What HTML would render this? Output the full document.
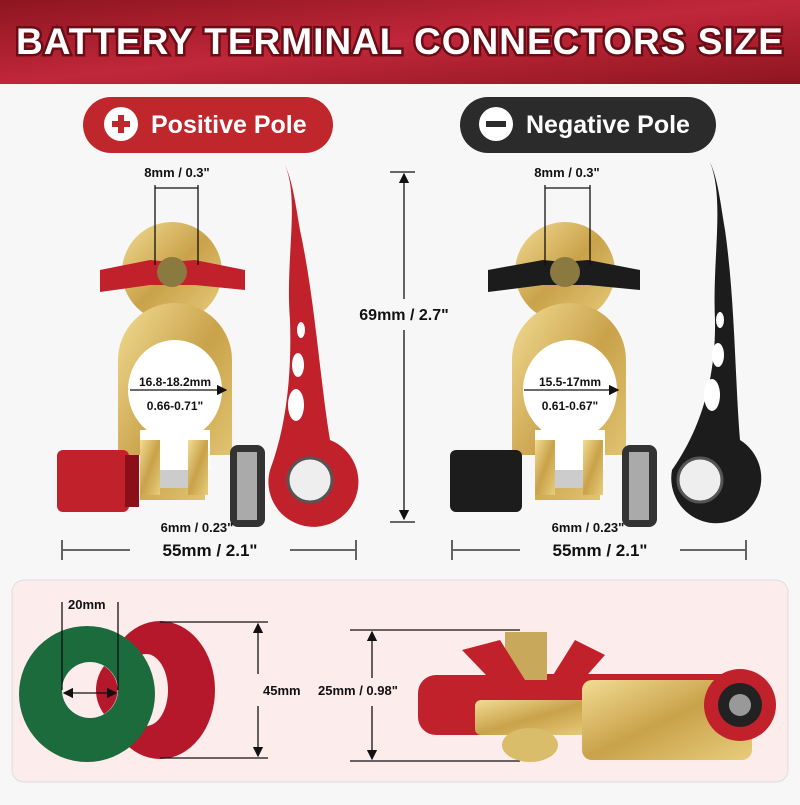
<!DOCTYPE html>
<html><head><meta charset="utf-8"><style>
body{margin:0;width:800px;height:800px;overflow:hidden;background:#f7f7f7;font-family:"Liberation Sans",sans-serif}
</style></head><body>
<svg width="800" height="800" viewBox="0 0 800 800" xmlns="http://www.w3.org/2000/svg">
<defs>
<linearGradient id="hd" x1="0" y1="0" x2="1" y2="1"><stop offset="0" stop-color="#8e1520"/><stop offset="0.5" stop-color="#c0273a"/><stop offset="1" stop-color="#8e1520"/></linearGradient>
<linearGradient id="gold" x1="0" y1="0" x2="1" y2="1"><stop offset="0" stop-color="#f2dc94"/><stop offset="0.5" stop-color="#c9a24a"/><stop offset="1" stop-color="#e8cd7c"/></linearGradient>
<marker id="a" markerWidth="8" markerHeight="8" refX="7" refY="4" orient="auto"><path d="M0,0L8,4L0,8z" fill="#111"/></marker>
</defs>
<rect width="800" height="84" fill="url(#hd)"/>
<text x="400" y="54" text-anchor="middle" font-size="37" font-weight="bold" fill="#fff" stroke="#6a0d16" stroke-width="5" paint-order="stroke" letter-spacing="1">BATTERY TERMINAL CONNECTORS SIZE</text>
<rect x="83" y="97" width="250" height="56" rx="28" fill="#c0272d"/>
<circle cx="121" cy="124" r="17" fill="#fff"/><rect x="112" y="121" width="18" height="6" fill="#c0272d"/><rect x="118" y="115" width="6" height="18" fill="#c0272d"/>
<text x="151" y="133" font-size="25" font-weight="bold" fill="#fff">Positive Pole</text>
<rect x="460" y="97" width="256" height="56" rx="28" fill="#2b2b2b"/>
<circle cx="496" cy="124" r="17" fill="#fff"/><rect x="486" y="121" width="20" height="6" fill="#2b2b2b"/>
<text x="526" y="133" font-size="25" font-weight="bold" fill="#fff">Negative Pole</text>

<g>
<path d="M285,165 C300,200 285,260 290,320 C292,380 285,430 270,470 A45,45 0 1 0 330,440 C320,380 315,300 300,230 C295,200 292,180 285,165z" fill="#c0212b"/>
<circle cx="310" cy="480" r="22" fill="#eee" stroke="#555" stroke-width="3"/>
<ellipse cx="301" cy="330" rx="4" ry="8" fill="#fff"/><ellipse cx="298" cy="365" rx="6" ry="12" fill="#fff"/><ellipse cx="296" cy="405" rx="8" ry="16" fill="#fff"/>
<circle cx="172" cy="272" r="50" fill="url(#gold)"/>
<path d="M100,270 L150,260 L170,262 L195,260 L245,270 L245,290 L195,285 L150,285 L100,292z" fill="#c0212b"/>
<circle cx="172" cy="272" r="15" fill="#8a7a40"/>
<path d="M118,360 A57,57 0 0 1 232,360 L232,455 L205,455 L205,500 L140,500 L140,455 L118,455z" fill="url(#gold)"/>
<ellipse cx="175" cy="390" rx="47" ry="50" fill="#fff"/>
<rect x="140" y="430" width="70" height="40" fill="#fff"/>
<rect x="140" y="440" width="20" height="55" fill="url(#gold)"/><rect x="188" y="440" width="20" height="55" fill="url(#gold)"/>
<rect x="160" y="470" width="28" height="18" fill="#ccc"/>
<rect x="57" y="450" width="72" height="62" rx="6" fill="#c0212b"/><rect x="125" y="455" width="14" height="52" fill="#8a0f18"/>
<rect x="230" y="445" width="35" height="82" rx="8" fill="#333"/><rect x="237" y="452" width="20" height="68" fill="#aaa"/>
</g>
<g>
<path d="M710,162 C725,200 712,260 715,320 C716,380 700,430 672,470 A45,45 0 1 0 740,440 C735,380 735,300 725,230 C720,200 718,180 710,162z" fill="#1c1c1c"/>
<circle cx="700" cy="480" r="22" fill="#eee" stroke="#555" stroke-width="3"/>
<ellipse cx="720" cy="320" rx="4" ry="8" fill="#fff"/><ellipse cx="718" cy="355" rx="6" ry="12" fill="#fff"/><ellipse cx="712" cy="395" rx="8" ry="16" fill="#fff"/>
<circle cx="565" cy="272" r="50" fill="url(#gold)"/>
<path d="M488,270 L543,260 L563,262 L588,260 L640,270 L640,290 L588,285 L543,285 L488,292z" fill="#1c1c1c"/>
<circle cx="565" cy="272" r="15" fill="#8a7a40"/>
<path d="M512,360 A57,57 0 0 1 626,360 L626,455 L600,455 L600,500 L535,500 L535,455 L512,455z" fill="url(#gold)"/>
<ellipse cx="570" cy="390" rx="47" ry="50" fill="#fff"/>
<rect x="535" y="430" width="70" height="40" fill="#fff"/>
<rect x="535" y="440" width="20" height="55" fill="url(#gold)"/><rect x="583" y="440" width="20" height="55" fill="url(#gold)"/>
<rect x="555" y="470" width="28" height="18" fill="#ccc"/>
<rect x="450" y="450" width="72" height="62" rx="6" fill="#1c1c1c"/>
<rect x="622" y="445" width="35" height="82" rx="8" fill="#333"/><rect x="629" y="452" width="20" height="68" fill="#aaa"/>
</g>

<g stroke="#111" stroke-width="1.3" fill="none">
<line x1="155" y1="185" x2="155" y2="265"/><line x1="198" y1="185" x2="198" y2="265"/><line x1="155" y1="188" x2="198" y2="188"/>
<line x1="545" y1="185" x2="545" y2="265"/><line x1="590" y1="185" x2="590" y2="265"/><line x1="545" y1="188" x2="590" y2="188"/>
<line x1="390" y1="172" x2="415" y2="172"/><line x1="390" y1="522" x2="415" y2="522"/>
<line x1="404" y1="175" x2="404" y2="300" marker-end="url(#a)" transform="rotate(180 404 237)"/>
<line x1="404" y1="330" x2="404" y2="519" marker-end="url(#a)"/>
<line x1="62" y1="540" x2="62" y2="560"/><line x1="356" y1="540" x2="356" y2="560"/>
<line x1="63" y1="550" x2="130" y2="550"/><line x1="290" y1="550" x2="355" y2="550"/>
<line x1="452" y1="540" x2="452" y2="560"/><line x1="746" y1="540" x2="746" y2="560"/>
<line x1="453" y1="550" x2="520" y2="550"/><line x1="680" y1="550" x2="745" y2="550"/>
<line x1="130" y1="390" x2="226" y2="390" marker-end="url(#a)"/><line x1="524" y1="390" x2="618" y2="390" marker-end="url(#a)"/>
</g>
<g font-weight="bold" fill="#111" text-anchor="middle">
<text x="177" y="177" font-size="13">8mm / 0.3"</text>
<text x="567" y="177" font-size="13">8mm / 0.3"</text>
<text x="404" y="320" font-size="16">69mm / 2.7"</text>
<text x="175" y="386" font-size="12">16.8-18.2mm</text><text x="175" y="410" font-size="12">0.66-0.71"</text>
<text x="570" y="386" font-size="12">15.5-17mm</text><text x="570" y="410" font-size="12">0.61-0.67"</text>
<text x="197" y="532" font-size="13">6mm / 0.23"</text>
<text x="588" y="532" font-size="13">6mm / 0.23"</text>
<text x="210" y="556" font-size="17">55mm / 2.1"</text>
<text x="600" y="556" font-size="17">55mm / 2.1"</text>
</g>

<rect x="12" y="580" width="776" height="202" rx="12" fill="#fcecec" stroke="#ddd" stroke-width="1"/>
<ellipse cx="160" cy="690" rx="55" ry="69" fill="#b5182a"/>
<ellipse cx="146" cy="690" rx="22" ry="36" fill="#fcecec"/>
<ellipse cx="87" cy="694" rx="68" ry="68" fill="#1c6b3c"/>
<ellipse cx="90" cy="690" rx="28" ry="28" fill="#fcecec"/>
<path d="M104,666 A28,28 0 0 1 104,714 A40,40 0 0 1 104,666 Z" fill="#b5182a"/>
<g stroke="#111" stroke-width="1.3" fill="none">
<line x1="62" y1="602" x2="62" y2="690"/><line x1="118" y1="602" x2="118" y2="690"/>
<line x1="90" y1="693" x2="64" y2="693" marker-end="url(#a)"/><line x1="90" y1="693" x2="116" y2="693" marker-end="url(#a)"/>
<line x1="160" y1="622" x2="268" y2="622"/><line x1="160" y1="758" x2="268" y2="758"/>
<line x1="258" y1="674" x2="258" y2="624" marker-end="url(#a)"/><line x1="258" y1="706" x2="258" y2="756" marker-end="url(#a)"/>
<line x1="350" y1="630" x2="520" y2="630"/><line x1="350" y1="761" x2="520" y2="761"/>
<line x1="372" y1="678" x2="372" y2="632" marker-end="url(#a)"/><line x1="372" y1="706" x2="372" y2="759" marker-end="url(#a)"/>
</g>
<g font-weight="bold" fill="#111" font-size="13">
<text x="68" y="609">20mm</text>
<text x="263" y="695">45mm</text>
<text x="318" y="695">25mm / 0.98"</text>
</g>
<rect x="418" y="675" width="90" height="60" rx="18" fill="#c0212b"/>
<rect x="500" y="674" width="230" height="55" fill="#c0212b"/>
<rect x="505" y="632" width="42" height="55" fill="#c8a85a"/>
<path d="M462,650 L500,640 L525,680 L550,680 L575,640 L605,655 L565,700 L510,700z" fill="#c0212b"/>
<rect x="475" y="700" width="120" height="35" rx="6" fill="url(#gold)"/>
<ellipse cx="530" cy="745" rx="28" ry="17" fill="#d9bd6a"/>
<rect x="582" y="680" width="170" height="80" rx="10" fill="url(#gold)"/>
<circle cx="740" cy="705" r="36" fill="#c0212b"/>
<circle cx="740" cy="705" r="22" fill="#222"/><circle cx="740" cy="705" r="11" fill="#999"/>
</svg>
</body></html>
